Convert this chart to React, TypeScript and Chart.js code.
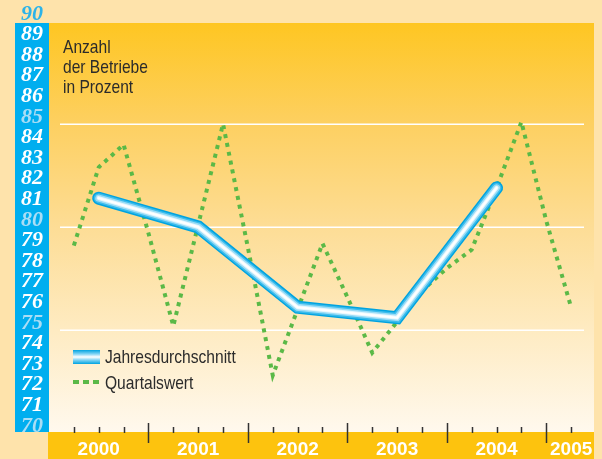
import React, { useEffect, useRef } from 'react';
import { Chart, registerables } from 'chart.js';

Chart.register(...registerables);

// ---- data ----
const years = ['2000', '2001', '2002', '2003', '2004', '2005'];
// quarterly values, 2000 Q1 ... 2005 Q1
const quarterlyValues = [
  79.1, 82.9, 84.0, 79.7,
  75.2, 80.1, 85.0, 79.0,
  72.8, 76.0, 79.2, 76.6,
  73.9, 75.4, 76.9, 78.0,
  78.9, 81.9, 85.1, 80.3,
  76.1,
];
// annual averages 2000 ... 2004
const annualValues = [81.4, 80.0, 76.1, 75.6, 81.9];
const yTickValues = [70, 71, 72, 73, 74, 75, 76, 77, 78, 79, 80, 81, 82, 83, 84, 85, 86, 87, 88, 89, 90];
const gridValues = [75, 80, 85];
const titleLines = ['Anzahl', 'der Betriebe', 'in Prozent'];
const seriesNames = ['Jahresdurchschnitt', 'Quartalswert'];

const W = 602;
const H = 459;
const SANS = '"Liberation Sans", Arial, sans-serif';
const SERIF = '"Liberation Serif", "Times New Roman", serif';
const GREEN = '#5BB947';
const NARROW_SCALE = 0.82;
const tubeLayers = [
  { w: 13, c: '#00A3E0' },
  { w: 10, c: '#3BBCEC' },
  { w: 7, c: '#9BDCF6' },
  { w: 4, c: '#E6F7FD' },
  { w: 2, c: '#FFFFFF' },
];

const quarterPoints = quarterlyValues.map((v, i) => ({ x: (i + 1) / 4, y: v }));
const annualPoints = annualValues.map((v, i) => ({ x: i + 0.5, y: v }));
const yearLabelPos = years.map((_, i) => (i < years.length - 1 ? i + 0.5 : i + 0.25));

function narrowText(ctx: CanvasRenderingContext2D, text: string, x: number, y: number) {
  ctx.save();
  ctx.translate(x, y);
  ctx.scale(NARROW_SCALE, 1);
  ctx.fillText(text, 0, 0);
  ctx.restore();
}

const decorPlugin = {
  id: 'decor',
  beforeDraw(chart: any) {
    const { ctx, chartArea: a, scales } = chart;
    const y = scales.y;
    ctx.save();
    ctx.fillStyle = '#FEE3AB';
    ctx.fillRect(0, 0, W, H);
    // plot background gradient
    const top = a.top + 2;
    const g = ctx.createLinearGradient(0, top, 0, a.bottom);
    g.addColorStop(0, '#FEC622');
    g.addColorStop(0.25, '#FDD062');
    g.addColorStop(0.5, '#FDDD96');
    g.addColorStop(0.75, '#FEEBC2');
    g.addColorStop(1, '#FFF9EE');
    ctx.fillStyle = g;
    ctx.fillRect(a.left - 1, top, a.right - a.left + 1, a.bottom - top);
    // blue y-axis strip
    ctx.fillStyle = '#00AEEF';
    ctx.fillRect(15, top, a.left - 15, a.bottom - 1 - top);
    // yellow x-axis band
    ctx.fillStyle = '#FDC30E';
    ctx.fillRect(a.left - 1, a.bottom - 1, a.right - a.left + 1, H - a.bottom + 1);
    // grid lines
    ctx.strokeStyle = '#FFFFFF';
    ctx.lineWidth = 1.5;
    gridValues.forEach((v) => {
      const py = Math.round(y.getPixelForValue(v)) + 0.25;
      ctx.beginPath();
      ctx.moveTo(a.left + 11, py);
      ctx.lineTo(a.right - 10, py);
      ctx.stroke();
    });
    // title
    ctx.fillStyle = '#2B2B2B';
    ctx.font = `19px ${SANS}`;
    ctx.textBaseline = 'alphabetic';
    ctx.textAlign = 'left';
    titleLines.forEach((t, i) => narrowText(ctx, t, 63, 53 + i * 20));
    ctx.restore();
  },
  afterDraw(chart: any) {
    const { ctx, chartArea: a, scales } = chart;
    const x = scales.x;
    ctx.save();
    // quarter tick marks
    ctx.strokeStyle = '#333333';
    ctx.lineWidth = 1.5;
    for (let q = 1; q <= 21; q++) {
      const v = q / 4;
      const px = Math.round(x.getPixelForValue(v)) + 0.5;
      ctx.beginPath();
      if (q % 4 === 0) {
        ctx.moveTo(px, a.bottom - 10);
        ctx.lineTo(px, a.bottom + 10);
      } else {
        ctx.moveTo(px, a.bottom - 6);
        ctx.lineTo(px, a.bottom);
      }
      ctx.stroke();
    }
    // legend
    const sx = 73;
    const sw = 27;
    const g = ctx.createLinearGradient(0, 350, 0, 364);
    g.addColorStop(0, '#00A3E0');
    g.addColorStop(0.28, '#7FD3F4');
    g.addColorStop(0.5, '#FFFFFF');
    g.addColorStop(0.72, '#7FD3F4');
    g.addColorStop(1, '#00A3E0');
    ctx.fillStyle = g;
    ctx.fillRect(sx, 350, sw, 14);
    ctx.strokeStyle = GREEN;
    ctx.lineWidth = 4;
    ctx.setLineDash([6, 4]);
    ctx.beginPath();
    ctx.moveTo(sx, 382);
    ctx.lineTo(sx + 26, 382);
    ctx.stroke();
    ctx.setLineDash([]);
    ctx.fillStyle = '#2B2B2B';
    ctx.font = `19px ${SANS}`;
    ctx.textAlign = 'left';
    ctx.textBaseline = 'alphabetic';
    narrowText(ctx, seriesNames[0], 105, 363);
    narrowText(ctx, seriesNames[1], 105, 389);
    ctx.restore();
  },
};

export default function App() {
  const ref = useRef<HTMLCanvasElement>(null);
  useEffect(() => {
    const tubeDatasets = tubeLayers.map((l, i) => ({
      label: seriesNames[0],
      data: annualPoints,
      borderColor: l.c,
      borderWidth: l.w,
      borderCapStyle: 'round' as const,
      borderJoinStyle: 'miter' as const,
      pointRadius: 0,
      tension: 0,
      fill: false,
      order: tubeLayers.length - i,
    }));
    const chart = new Chart(ref.current as HTMLCanvasElement, {
      type: 'line',
      data: {
        datasets: [
          {
            label: seriesNames[1],
            data: quarterPoints,
            borderColor: GREEN,
            borderWidth: 4,
            borderDash: [4, 5],
            borderCapStyle: 'butt',
            pointRadius: 0,
            tension: 0,
            fill: false,
            order: 20,
          },
          ...tubeDatasets,
        ],
      },
      options: {
        responsive: false,
        animation: false,
        devicePixelRatio: 1,
        layout: { padding: { top: 21, right: 8, left: 0, bottom: 0 } },
        plugins: { legend: { display: false }, tooltip: { enabled: false } },
        scales: {
          x: {
            type: 'linear',
            min: 0,
            max: 5.48,
            bounds: 'data',
            grid: { display: false, drawTicks: false },
            border: { display: false },
            afterBuildTicks: (s: any) => {
              s.ticks = yearLabelPos.map((v) => ({ value: v }));
            },
            afterFit: (s: any) => {
              s.height = 26;
              s.paddingLeft = 0;
              s.paddingRight = 0;
            },
            ticks: {
              autoSkip: false,
              maxRotation: 0,
              padding: 5,
              color: '#FFFFFF',
              font: { family: SANS, size: 19, weight: 'bold', lineHeight: 1.2 },
              callback: (_v: any, i: number) => years[i],
            },
          },
          y: {
            type: 'linear',
            min: 70,
            max: 90,
            bounds: 'data',
            grid: { display: false, drawTicks: false },
            border: { display: false },
            afterBuildTicks: (s: any) => {
              s.ticks = yTickValues.map((v) => ({ value: v }));
            },
            afterFit: (s: any) => {
              s.width = 49;
              s.paddingTop = 0;
              s.paddingBottom = 0;
            },
            ticks: {
              autoSkip: false,
              crossAlign: 'center',
              padding: 6,
              labelOffset: -7,
              font: { family: SERIF, size: 22, style: 'italic', weight: 'bold', lineHeight: 1 },
              color: (c: any) => {
                const v = c.tick ? c.tick.value : 0;
                if (v === 90) return '#2DB3E8';
                if (v % 5 === 0) return '#A9DDF5';
                return '#FFFFFF';
              },
              callback: (v: any) => String(v),
            },
          },
        },
      },
      plugins: [decorPlugin],
    } as any);
    return () => chart.destroy();
  }, []);
  return (
    <div style={{ position: 'fixed', left: 0, top: 0, width: W, height: H }}>
      <canvas ref={ref} width={W} height={H} style={{ display: 'block', width: W, height: H }} />
    </div>
  );
}
